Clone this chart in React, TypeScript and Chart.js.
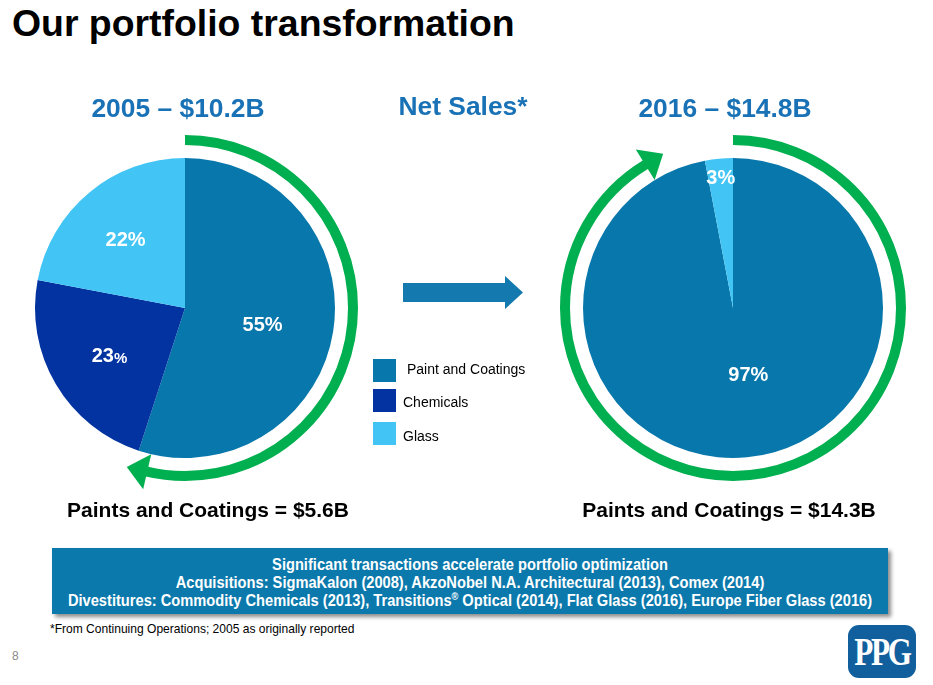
import React, { useEffect, useRef } from "react";
import { Chart, registerables } from "chart.js";

Chart.register(...registerables);

// ---------- data ----------
const segments2005 = ["Paint and Coatings", "Chemicals", "Glass"];
const values2005 = [55, 23, 22];
const segments2016 = ["Paint and Coatings", "Glass"];
const values2016 = [97, 3];
const legendItems = ["Paint and Coatings", "Chemicals", "Glass"];
const years = ["2005", "2016"];
const netSales = ["$10.2B", "$14.8B"];
const paintSales = ["$5.6B", "$14.3B"];
const boxLines = [
  "Significant transactions accelerate portfolio optimization",
  "Acquisitions: SigmaKalon (2008), AkzoNobel N.A. Architectural (2013), Comex (2014)",
];
const divestitures = [
  "Commodity Chemicals (2013)",
  "Transitions",
  "Optical (2014), Flat Glass (2016), Europe Fiber Glass (2016)",
];

// ---------- styles ----------
const COL_PAINT = "#0877AB";
const COL_CHEM = "#0233A0";
const COL_GLASS = "#42C5F4";
const COL_GREEN = "#00AF4F";
const COL_HEAD = "#1A72B6";
const FONT = "'Liberation Sans', Arial, Helvetica, sans-serif";
const colorOf: Record<string, string> = {
  "Paint and Coatings": COL_PAINT,
  Chemicals: COL_CHEM,
  Glass: COL_GLASS,
};

// green circular arrow around the pie
const ringArrowPlugin = {
  id: "ringArrow",
  afterDatasetsDraw(chart: any, _a: any, opts: any) {
    const el = chart.getDatasetMeta(0).data[0];
    if (!el) return;
    const { x, y, outerRadius } = el.getProps(["x", "y", "outerRadius"], true);
    const ctx = chart.ctx;
    const R = outerRadius + opts.gap;
    const rad = (d: number) => ((d - 90) * Math.PI) / 180;
    ctx.save();
    ctx.strokeStyle = opts.color;
    ctx.fillStyle = opts.color;
    ctx.lineWidth = opts.width;
    ctx.lineCap = "butt";
    ctx.beginPath();
    ctx.arc(x, y, R, rad(opts.start), rad(opts.end + 0.5), false);
    ctx.stroke();
    const th = (opts.end * Math.PI) / 180;
    const bx = x + R * Math.sin(th);
    const by = y - R * Math.cos(th);
    const tx = Math.cos(th);
    const ty = Math.sin(th);
    const rx = Math.sin(th);
    const ry = -Math.cos(th);
    ctx.beginPath();
    ctx.moveTo(bx + rx * opts.headHalf, by + ry * opts.headHalf);
    ctx.lineTo(bx + tx * opts.headLen, by + ty * opts.headLen);
    ctx.lineTo(bx - rx * opts.headHalf, by - ry * opts.headHalf);
    ctx.closePath();
    ctx.fill();
    ctx.restore();
  },
};

// percentage labels inside slices
const sliceLabelPlugin = {
  id: "sliceLabels",
  afterDatasetsDraw(chart: any, _a: any, opts: any) {
    const meta = chart.getDatasetMeta(0);
    const values = chart.data.datasets[0].data;
    const ctx = chart.ctx;
    ctx.save();
    ctx.fillStyle = "#ffffff";
    ctx.textBaseline = "middle";
    ctx.textAlign = "left";
    meta.data.forEach((el: any, i: number) => {
      const p = el.getProps(["x", "y", "startAngle", "endAngle", "outerRadius"], true);
      const mid = (p.startAngle + p.endAngle) / 2 + (opts.angleShift ? opts.angleShift[i] : 0);
      const r = p.outerRadius * opts.radius[i];
      const cx = p.x + Math.cos(mid) * r;
      const cy = p.y + Math.sin(mid) * r;
      const num = String(values[i]);
      const pctSize = opts.smallPct[i] ? 15 : 20;
      ctx.font = `bold 20px ${FONT}`;
      const w1 = ctx.measureText(num).width;
      ctx.font = `bold ${pctSize}px ${FONT}`;
      const w2 = ctx.measureText("%").width;
      const left = cx - (w1 + w2) / 2;
      ctx.font = `bold 20px ${FONT}`;
      ctx.fillText(num, left, cy);
      ctx.font = `bold ${pctSize}px ${FONT}`;
      ctx.fillText("%", left + w1, cy + (20 - pctSize) * 0.3);
    });
    ctx.restore();
  },
};

function Pie({
  labels,
  values,
  left,
  top,
  ring,
  labelRadius,
  angleShift,
  smallPct,
}: {
  labels: string[];
  values: number[];
  left: number;
  top: number;
  ring: { start: number; end: number };
  labelRadius: number[];
  angleShift: number[];
  smallPct: boolean[];
}) {
  const ref = useRef<HTMLCanvasElement>(null);
  useEffect(() => {
    const chart = new Chart(ref.current!, {
      type: "pie",
      data: {
        labels,
        datasets: [
          {
            data: values,
            backgroundColor: labels.map((l) => colorOf[l]),
            borderWidth: 0,
          },
        ],
      },
      options: {
        responsive: false,
        animation: false,
        layout: { padding: 50 },
        plugins: {
          legend: { display: false },
          tooltip: { enabled: false },
          ringArrow: {
            color: COL_GREEN,
            gap: 18,
            width: 10,
            start: ring.start,
            end: ring.end,
            headLen: 21,
            headHalf: 18,
          },
          sliceLabels: { radius: labelRadius, smallPct, angleShift },
        } as any,
      },
      plugins: [ringArrowPlugin, sliceLabelPlugin],
    });
    return () => chart.destroy();
  }, []);
  return (
    <canvas
      ref={ref}
      width={400}
      height={400}
      style={{ position: "absolute", left, top, width: 400, height: 400 }}
    />
  );
}

function T({
  x,
  base,
  fs,
  anchor = "start",
  scale = 1,
  style,
  children,
}: {
  x: number;
  base: number;
  fs: number;
  anchor?: "start" | "middle";
  scale?: number;
  style?: React.CSSProperties;
  children: React.ReactNode;
}) {
  const top = base - 0.8465 * fs;
  const transform =
    anchor === "middle"
      ? `translateX(-50%) scaleX(${scale})`
      : scale !== 1
      ? `scaleX(${scale})`
      : undefined;
  return (
    <div
      style={{
        position: "absolute",
        left: x,
        top,
        fontSize: fs,
        lineHeight: `${fs}px`,
        whiteSpace: "nowrap",
        transform,
        transformOrigin: anchor === "middle" ? "center" : "left",
        zIndex: 2,
        ...style,
      }}
    >
      {children}
    </div>
  );
}

export default function App() {
  const legendTops = [359, 389, 422];
  const legendBases = [374, 407, 441];
  const legendX = [407, 403, 403];
  return (
    <div
      style={{
        position: "absolute",
        left: 0,
        top: 0,
        width: 933,
        height: 685,
        overflow: "hidden",
        background: "#ffffff",
        fontFamily: FONT,
        color: "#000",
      }}
    >
      <T x={12} base={37} fs={37.4} style={{ fontWeight: "bold" }}>
        Our portfolio transformation
      </T>

      <T x={178} base={117} fs={26.4} anchor="middle" style={{ fontWeight: "bold", color: COL_HEAD }}>
        {years[0]} – {netSales[0]}
      </T>
      <T x={463} base={115} fs={26.4} anchor="middle" style={{ fontWeight: "bold", color: COL_HEAD }}>
        Net Sales*
      </T>
      <T x={725} base={117} fs={26.4} anchor="middle" style={{ fontWeight: "bold", color: COL_HEAD }}>
        {years[1]} – {netSales[1]}
      </T>

      <Pie
        labels={segments2005}
        values={values2005}
        left={-15}
        top={108}
        ring={{ start: 0, end: 193 }}
        labelRadius={[0.53, 0.6, 0.6]}
        angleShift={[0.06, -0.04, -0.03]}
        smallPct={[false, true, false]}
      />
      <Pie
        labels={segments2016}
        values={values2016}
        left={533}
        top={108}
        ring={{ start: 0, end: 328.5 }}
        labelRadius={[0.46, 0.87]}
        angleShift={[-0.13, 0]}
        smallPct={[false, false]}
      />

      {/* middle arrow */}
      <svg
        width={130}
        height={45}
        style={{ position: "absolute", left: 400, top: 270, zIndex: 2 }}
      >
        <polygon
          points="3,13 105,13 105,6 123,22.5 105,39 105,32 3,32"
          fill="#1479AE"
        />
      </svg>

      {/* legend */}
      {legendItems.map((name, i) => (
        <React.Fragment key={name}>
          <div
            style={{
              position: "absolute",
              left: 373,
              top: legendTops[i],
              width: 23,
              height: 23,
              background: colorOf[name],
              zIndex: 2,
            }}
          />
          <T x={legendX[i]} base={legendBases[i]} fs={14}>
            {name}
          </T>
        </React.Fragment>
      ))}

      <T x={208} base={517} fs={21} anchor="middle" style={{ fontWeight: "bold" }}>
        Paints and Coatings = {paintSales[0]}
      </T>
      <T x={729} base={517} fs={21} anchor="middle" style={{ fontWeight: "bold" }}>
        Paints and Coatings = {paintSales[1]}
      </T>

      {/* blue box */}
      <div
        style={{
          position: "absolute",
          left: 52,
          top: 548,
          width: 836,
          height: 66,
          background: "#0B79AC",
          boxShadow: "3px 3px 4px rgba(0,0,0,0.45)",
          zIndex: 1,
        }}
      />
      <T x={470} base={571} fs={16} anchor="middle" scale={0.916} style={{ fontWeight: "bold", color: "#fff" }}>
        {boxLines[0]}
      </T>
      <T x={470} base={589} fs={16} anchor="middle" scale={0.916} style={{ fontWeight: "bold", color: "#fff" }}>
        {boxLines[1]}
      </T>
      <T x={470} base={607} fs={16} anchor="middle" scale={0.916} style={{ fontWeight: "bold", color: "#fff" }}>
        Divestitures: {divestitures[0]}, {divestitures[1]}
        <span style={{ fontSize: 10, position: "relative", top: -6 }}>®</span> {divestitures[2]}
      </T>

      <T x={50} base={633} fs={13} scale={0.926}>
        *From Continuing Operations; 2005 as originally reported
      </T>
      <T x={12} base={660} fs={12} style={{ color: "#8a8a8a" }}>
        8
      </T>

      {/* PPG logo */}
      <div
        style={{
          position: "absolute",
          left: 848,
          top: 625,
          width: 68,
          height: 53,
          borderRadius: 11,
          background: "#115F9C",
          zIndex: 2,
        }}
      />
      <T
        x={882}
        base={666}
        fs={40}
        anchor="middle"
        scale={0.78}
        style={{ color: "#fff", fontFamily: "'Liberation Serif', 'DejaVu Serif', serif", fontWeight: "bold", letterSpacing: -3 }}
      >
        PPG
      </T>
    </div>
  );
}
